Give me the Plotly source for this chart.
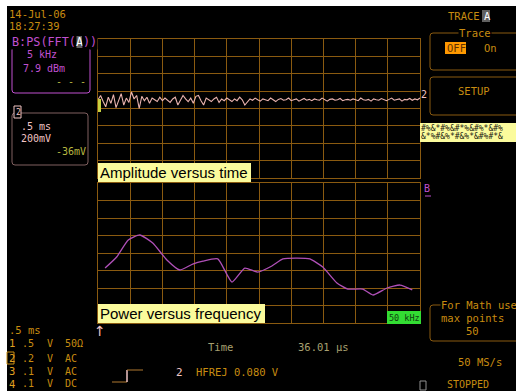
import plotly.graph_objects as go

# ---------------- data ----------------
# Channel A: amplitude (mV) sampled every 0.04 ms over 5 ms
amp_mv = [100, 150, 80, 20, 130, 60, 160, 10, 90, 170,
          40, 120, 70, 190, 110, 150, 0, 140, 90, 130,
          60, 120, 100, 80, 130, 90,
          120, 100, 70, 110, 130, 40, 90, 150, 110, 80,
          120, 60, 140, 150, 90, 40, 120, 100, 80, 110,
          130, 70, 110, 90, 120, 100, 80, 110, 90, 130,
          100, 40, 80, 110, 95, 120, 100, 85,
          110, 100, 90, 120, 100, 80, 105, 115, 95, 100,
          120, 90, 100, 110, 85, 100, 115, 95, 105, 90,
          110, 100, 95, 120, 100, 85, 105, 110, 95, 100,
          115, 90, 100, 105, 95, 110, 100, 90, 120, 100,
          95, 105, 85, 110, 100, 95, 115, 100, 90, 105,
          120, 95, 100, 110, 85, 105, 100, 115, 95, 110,
          100, 120]
sample_ms = 0.04
time_ms = [i * sample_ms for i in range(len(amp_mv))]

# Trace B: power spectrum of A
freq_khz = [1.1, 2.9, 4.7, 6.5, 8.5, 10.7, 12.7, 14.7, 16.3, 18.6, 20.8, 22.8, 24.8,
            27.0, 28.7, 30.9, 32.9, 34.9, 37.1, 38.8, 41.1, 42.7, 44.9, 46.9, 48.8]
power_dbm = [-38.6, -32.3, -22.6, -19.7, -24.3, -34.0, -39.7, -36.3, -34.6, -33.4,
             -46.6, -38.6, -40.9, -37.4, -33.4, -32.9, -33.4, -38.0, -47.1, -50.6,
             -50.6, -54.0, -50.0, -48.3, -51.1]

channel_ids = ["1", "2", "3", "4"]
channel_volts = [".5", ".2", ".1", ".1"]
channel_coupling = ["50\u03a9", "AC", "AC", "DC"]

# ---------------- styles ----------------
W, H = 516, 391
MONO = "DejaVu Sans Mono"
SANS = "Liberation Sans, Arial"
GRID = "#8a5a10"
ORANGE = "#c88c10"
KHAKI = "#a8a070"
PINK = "#f0c4c4"
TRACE_PINK = "#eab4b0"
PURPLE = "#c050d0"
OLIVE = "#b8b840"
YELLOWBG = "#fbfb9c"


def X(p):
    return p / W


def Y(p):
    return 1 - p / H


fig = go.Figure()

fig.add_trace(go.Scatter(x=time_ms, y=amp_mv, mode="lines",
                         line=dict(color=TRACE_PINK, width=1.1), xaxis="x", yaxis="y",
                         hoverinfo="skip"))
fig.add_trace(go.Scatter(x=freq_khz, y=power_dbm, mode="lines",
                         line=dict(color="#b050b8", width=1.3, shape="spline", smoothing=0.5),
                         xaxis="x2", yaxis="y2", hoverinfo="skip"))

ax_common = dict(showticklabels=False, ticks="", zeroline=False, showgrid=True,
                 gridcolor=GRID, gridwidth=1, showline=True, linecolor=GRID,
                 linewidth=1, mirror=True, fixedrange=True)

fig.update_layout(
    width=W, height=H, margin=dict(l=0, r=0, t=0, b=0),
    paper_bgcolor="black", plot_bgcolor="black", showlegend=False,
    xaxis=dict(domain=[X(98), X(420)], range=[0, 5], dtick=0.5, anchor="y", **ax_common),
    yaxis=dict(domain=[Y(178), Y(39)], range=[-800, 800], dtick=200, anchor="x", **ax_common),
    xaxis2=dict(domain=[X(98), X(420)], range=[0, 50], dtick=5, anchor="y2", **ax_common),
    yaxis2=dict(domain=[Y(323), Y(183)], range=[-70, 10], dtick=10, anchor="x2", **ax_common),
)

shapes = []
annots = []


def rect(x0, y0, x1, y1, line=None, fill=None, width=1, layer="above"):
    shapes.append(dict(type="rect", xref="paper", yref="paper",
                       x0=X(x0), x1=X(x1), y0=Y(y1), y1=Y(y0),
                       line=dict(color=line or "rgba(0,0,0,0)", width=width if line else 0),
                       fillcolor=fill or "rgba(0,0,0,0)", layer=layer))


def rrect(x0, y0, x1, y1, color, r=3):
    rx, ry = r / W, r / H
    a0, a1, b0, b1 = X(x0), X(x1), Y(y0), Y(y1)
    path = (f"M {a0+rx},{b0} L {a1-rx},{b0} Q {a1},{b0} {a1},{b0-ry} "
            f"L {a1},{b1+ry} Q {a1},{b1} {a1-rx},{b1} L {a0+rx},{b1} "
            f"Q {a0},{b1} {a0},{b1+ry} L {a0},{b0-ry} Q {a0},{b0} {a0+rx},{b0} Z")
    shapes.append(dict(type="path", xref="paper", yref="paper", path=path,
                       line=dict(color=color, width=1), layer="above"))


def line(x0, y0, x1, y1, color, width=1):
    shapes.append(dict(type="line", xref="paper", yref="paper",
                       x0=X(x0), x1=X(x1), y0=Y(y0), y1=Y(y1),
                       line=dict(color=color, width=width), layer="above"))


def txt(x, y, s, color, size=10.5, anchor="left", family=MONO, bg=None):
    annots.append(dict(xref="paper", yref="paper", x=X(x), y=Y(y), text=s,
                       showarrow=False, xanchor=anchor, yanchor="middle",
                       font=dict(family=family, size=size, color=color),
                       bgcolor=bg, borderpad=0))


# white border (top/left)
rect(0, 0, 7, H, fill="white", layer="below")
rect(0, 0, W, 6, fill="white", layer="below")

# date / time
txt(8, 14, "14-Jul-06", ORANGE)
txt(8, 26, "18:27:39", ORANGE)

# Trace B descriptor box
rrect(12, 47, 90, 93, PURPLE)
txt(11, 42, "B:PS(FFT(", PURPLE, size=11.8, bg="black")
rect(75, 36, 82, 48, fill="#606060")
txt(75, 42, "A", "white", size=11.8)
txt(82, 42, "))", PURPLE, size=11.8, bg="black")
txt(26, 55, "5 kHz", PURPLE, size=10)
txt(22, 68, "7.9 dBm", PURPLE, size=10)
txt(55, 81, "- - -", OLIVE, size=10)

# Channel 2 descriptor box
rrect(12, 113, 88, 165, "#806060")
rect(14, 106, 21, 118, line=PINK, fill="black")
txt(14.5, 112, "2", PINK, size=8)
txt(20, 126, ".5 ms", PINK, size=10)
txt(20, 138, "200mV", PINK, size=10)
txt(55, 151, "-36mV", OLIVE, size=10)

# left marker & right markers for the traces
rect(98, 99, 101, 112, fill="#c8d040")
txt(420, 94, "2", PINK, size=10)
txt(423, 188, "B", PURPLE, size=10)
line(425, 196, 431, 196, PURPLE)

# panel labels
rect(98, 163, 251, 182, fill=YELLOWBG)
txt(99, 172.5, "Amplitude versus time", "black", size=15, family=SANS)
rect(98, 304, 265, 323, fill=YELLOWBG)
txt(99, 313.5, "Power versus frequency", "black", size=15, family=SANS)
rect(387, 311, 421, 324, fill="#33dd33")
txt(404, 317.5, "50 kHz", "#104010", size=8.5, anchor="center")

# trigger position arrow
txt(99.5, 331, "\u2191", PINK, size=14, anchor="center", family="DejaVu Sans")

# right side menu
txt(447, 16, "TRACE", ORANGE)
rect(482, 10, 490, 22, fill="#606060")
txt(482.5, 16, "A", "white")
rrect(430, 33, 522, 70, GRID)
txt(475, 33, "Trace", ORANGE, anchor="center", bg="black")
rect(445, 42, 466, 54, fill="#ff9900")
txt(446, 48, "OFF", "#603000")
txt(483, 48, "On", ORANGE)
rrect(430, 77, 522, 115, GRID)
txt(474, 91, "SETUP", ORANGE, anchor="center")
rect(420, 123, W, 142, fill=YELLOWBG)
txt(420, 128, "#%&*#%&#*%&#%*&#%", "#202010", size=8)
txt(420, 137, "&*%#&%*#&%*&#%#*&", "#202010", size=8)
rrect(430, 305, 522, 341, GRID)
txt(440, 305, "For Math use", ORANGE, bg="black")
txt(440, 318, "max points", ORANGE)
txt(472, 331, "50", ORANGE, anchor="center")

# bottom status lines
txt(8, 330, ".5 ms", ORANGE)
row_y = [343, 358, 371, 383.5]
for cid, volt, coup, yy in zip(channel_ids, channel_volts, channel_coupling, row_y):
    if cid == "2":
        rect(7, yy - 6, 14, yy + 6, line=ORANGE)
    txt(7.5, yy, cid, "#e0a020", size=10.5)
    txt(21, yy, volt, ORANGE, size=10)
    txt(46, yy, "V", ORANGE, size=10)
    txt(64, yy, coup, ORANGE, size=10)

txt(220, 347, "Time", KHAKI, anchor="center")
txt(323, 347, "36.01 \u00b5s", KHAKI, anchor="center")

# trigger edge icon
line(112, 382, 127, 382, "#b07830")
line(127, 382, 127, 370, PINK, width=1.5)
line(127, 370, 143, 370, "#b07830")
txt(179, 372, "2", PINK, size=11, anchor="center")
txt(195, 372, "HFREJ 0.080 V", ORANGE)

txt(480, 362, "50 MS/s", ORANGE, anchor="center")
rect(420, 381, 426, 390, line="#909090")
txt(446, 384.5, "STOPPED", ORANGE, size=10)

fig.update_layout(shapes=shapes, annotations=annots)
fig.write_html("out.html")
